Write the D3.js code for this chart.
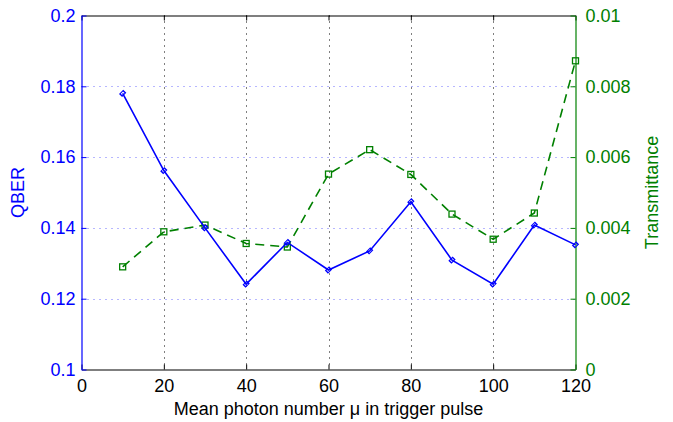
<!DOCTYPE html>
<html><head><meta charset="utf-8">
<script src="https://cdn.jsdelivr.net/npm/d3@7"></script>
<style>body{margin:0;background:#fff}svg{display:block}text{font-family:"Liberation Sans",Arial,sans-serif}</style>
</head><body>
<svg id="c" width="673" height="422"></svg>
<script>
const muValues = [10,20,30,40,50,60,70,80,90,100,110,120];
const qberValues = [0.178,0.1562,0.1400,0.1241,0.1359,0.1281,0.1335,0.1474,0.1309,0.1241,0.1408,0.1352];
const transValues = [0.00290,0.00389,0.00408,0.00356,0.00346,0.00552,0.00621,0.00551,0.00439,0.00368,0.00442,0.00872];
const xTicks = [0,20,40,60,80,100,120];
const yLeftTicks = [0.1,0.12,0.14,0.16,0.18,0.2];
const yRightTicks = [0,0.002,0.004,0.006,0.008,0.01];

const BLUE = "#0000ff", GREEN = "#008000";
const FS = "18px";
const L = 81.5, R = 575.5, T = 15.5, B = 369.5;
const svg = d3.select("#c");
const x = d3.scaleLinear().domain([0,120]).range([L,R]);
const yL = d3.scaleLinear().domain([0.1,0.2]).range([B,T]);
const yR = d3.scaleLinear().domain([0,0.01]).range([B,T]);

// grid
const g = svg.append("g");
xTicks.filter(t=>t>0&&t<120).forEach(t=>{
  g.append("line").attr("x1",Math.round(x(t))+0.5).attr("x2",Math.round(x(t))+0.5).attr("y1",T).attr("y2",B)
   .attr("stroke","#000").attr("stroke-width",1).attr("stroke-dasharray","1,5");
});
yLeftTicks.filter(t=>t>0.1&&t<0.2).forEach(t=>{
  g.append("line").attr("x1",L).attr("x2",R).attr("y1",Math.round(yL(t))+0.5).attr("y2",Math.round(yL(t))+0.5)
   .attr("stroke","#6f6fff").attr("stroke-width",1).attr("stroke-dasharray","1,5");
});

// axes
const axB = d3.axisBottom(x).tickValues(xTicks).tickSizeInner(-5).tickSizeOuter(0).tickPadding(10);
const axT = d3.axisTop(x).tickValues(xTicks).tickSizeInner(-5).tickSizeOuter(0).tickFormat("");
const axL = d3.axisLeft(yL).tickValues(yLeftTicks).tickSizeInner(-5).tickSizeOuter(0).tickPadding(6).tickFormat(d=>String(+d.toFixed(2)));
const axR = d3.axisRight(yR).tickValues(yRightTicks).tickSizeInner(-5).tickSizeOuter(0).tickPadding(10).tickFormat(d=>String(+d.toFixed(3)));

function style(sel,color){
  sel.selectAll("path").attr("stroke",color).attr("stroke-width",1.2);
  sel.selectAll("line").attr("stroke",color);
  sel.selectAll("text").attr("fill",color).style("font-size",FS).style("font-family","'Liberation Sans',Arial,sans-serif");
}
style(svg.append("g").attr("transform",`translate(0,${T})`).call(axT),"#000");
style(svg.append("g").attr("transform",`translate(0,${B})`).call(axB),"#000");
style(svg.append("g").attr("transform",`translate(${R},0)`).call(axR),GREEN);
style(svg.append("g").attr("transform",`translate(${L},0)`).call(axL),BLUE);

// labels
svg.append("text").attr("x",(L+R)/2).attr("y",415).attr("text-anchor","middle")
  .style("font-size",FS).attr("fill","#000").text("Mean photon number \u03bc in trigger pulse");
svg.append("text").attr("transform",`translate(24,${(T+B)/2}) rotate(-90)`).attr("text-anchor","middle")
  .style("font-size",FS).attr("fill",BLUE).text("QBER");
svg.append("text").attr("transform",`translate(658,${(T+B)/2}) rotate(-90)`).attr("text-anchor","middle")
  .style("font-size",FS).attr("fill",GREEN).text("Transmittance");

// green series
const lineR = d3.line().x((d,i)=>x(muValues[i])).y(d=>yR(d));
svg.append("path").datum(transValues).attr("d",lineR).attr("fill","none")
  .attr("stroke",GREEN).attr("stroke-width",1.6).attr("stroke-dasharray","9,6");
svg.append("g").selectAll("rect").data(transValues).join("rect")
  .attr("x",(d,i)=>x(muValues[i])-3).attr("y",d=>yR(d)-3).attr("width",6).attr("height",6)
  .attr("fill","none").attr("stroke",GREEN).attr("stroke-width",1.3);

// blue series
const lineL = d3.line().x((d,i)=>x(muValues[i])).y(d=>yL(d));
svg.append("path").datum(qberValues).attr("d",lineL).attr("fill","none")
  .attr("stroke",BLUE).attr("stroke-width",1.6);
svg.append("g").selectAll("path").data(qberValues).join("path")
  .attr("d",d3.symbol().type(d3.symbolSquare2).size(22))
  .attr("transform",(d,i)=>`translate(${x(muValues[i])},${yL(d)}) rotate(45) scale(0.8,1.1)`)
  .attr("fill","none").attr("stroke",BLUE).attr("stroke-width",1.3);
</script>
</body></html>
